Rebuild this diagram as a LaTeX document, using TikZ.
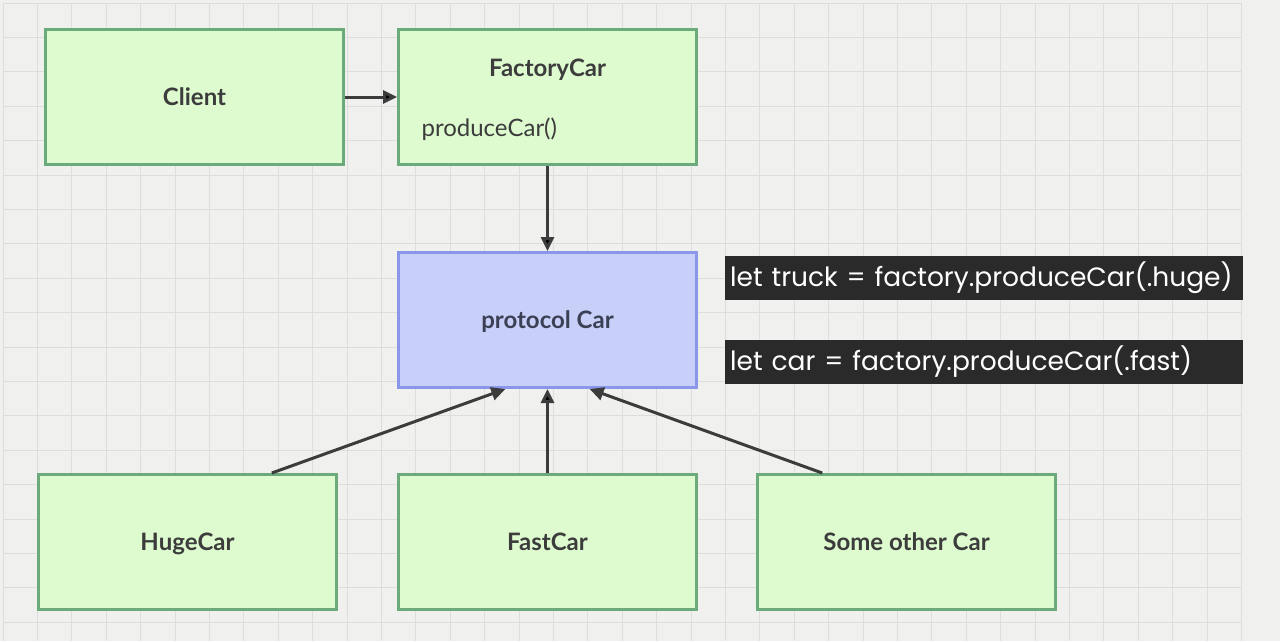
\documentclass[tikz,border=0pt]{standalone}
\usepackage{fontspec}
\setmainfont{Lato}
\newfontfamily\codefont{Poppins}
\usepackage{tikz}
\usetikzlibrary{arrows.meta,positioning,calc}
\definecolor{paper}{HTML}{F0F0EE}
\definecolor{gridgray}{HTML}{DDDDDB}
\definecolor{boxgreen}{HTML}{6BAA7A}
\definecolor{fillgreen}{HTML}{DEFBCF}
\definecolor{boxblue}{HTML}{8A96EA}
\definecolor{fillblue}{HTML}{C8D0FA}
\definecolor{ink}{HTML}{3C3C3C}
\definecolor{protoink}{HTML}{3C4055}
\definecolor{codebg}{HTML}{2A2A2A}

\begin{document}
\begin{tikzpicture}[x=1pt,y=-1pt,
        box/.style={draw=boxgreen,fill=fillgreen,line width=3pt,minimum width=298pt,
            minimum height=135pt,text=ink,text height=17pt,text depth=1pt,
            font=\fontsize{24}{28}\selectfont\bfseries},
        proto/.style={box,draw=boxblue,fill=fillblue,text=protoink},
        codeline/.style={fill=codebg,text=white,anchor=west,minimum width=518pt,
            minimum height=44pt,text width=508pt,inner xsep=5pt,align=left,
            font=\codefont\fontsize{26.5}{30}\selectfont},
        link/.style={draw=ink,line width=3pt,-{Triangle[length=14pt,width=13pt]}}]
    \useasboundingbox (0,0) rectangle (1280,641);
    \fill[paper] (0,0) rectangle (1280,641);
    \foreach \i in {0,...,36}
        \draw[gridgray,line width=1pt] (3+34.4*\i,3) -- (3+34.4*\i,641);
    \foreach \j in {0,...,18}
        \draw[gridgray,line width=1pt] (3,3+34.4*\j) -- (1241,3+34.4*\j);

    \node[box]   (client)  at (194.5,97) {Client};
    \node[box]   (factory) [right=52pt of client] {};
    \node[text=ink,font=\fontsize{24}{28}\selectfont\bfseries,below=27pt of factory.north] {FactoryCar};
    \node[text=ink,font=\fontsize{24}{28}\selectfont,anchor=west] at ($(factory.west)+(21,32)$) {produceCar()};
    \node[proto] (car)     [below=85pt of factory] {protocol Car};
    \node[box]   (fast)    [below=84pt of car] {FastCar};
    \node[box]   (huge)    [left=59pt of fast] {HugeCar};
    \node[box]   (other)   [right=58pt of fast] {Some other Car};

    \node[codeline] (truckline) at (725,278)   {let truck = factory.produceCar(.huge)};
    \node[codeline] (carline)   at (725,361.5) {let car = factory.produceCar(.fast)};

    \path[link] (client) edge (factory)
                (factory) edge (car)
                (fast) edge (car);
    \draw[link] ($(huge.north west)!0.78!(huge.north east)$) -- ($(car.south west)!0.36!(car.south east)$);
    \draw[link] ($(other.north west)!0.22!(other.north east)$) -- ($(car.south west)!0.64!(car.south east)$);
\end{tikzpicture}
\end{document}
